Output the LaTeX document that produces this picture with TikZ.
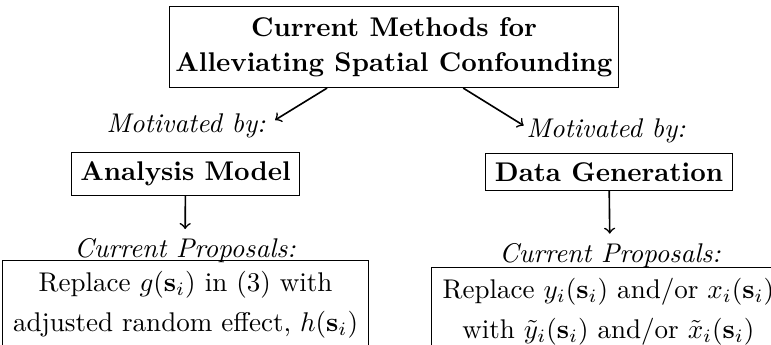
\documentclass[tikz,border=0pt]{standalone}
\usepackage{amsmath}
\usetikzlibrary{positioning, calc}

\begin{document}
\begin{tikzpicture}[box/.style={draw, thin, align=center}, note/.style={font=\itshape}]
	\useasboundingbox (0, 0) rectangle (10.023, -4.485);
	\node[box, font=\bfseries, inner xsep=2.2pt, inner ysep=4pt] (top) at (5.122, -0.611) {Current Methods for\\[1pt] Alleviating Spatial Confounding};
	\node[note] (motivL) at (2.418, -1.638) {Motivated by:};
	\node[note] (motivR) at (7.878, -1.703) {Motivated by:};
	\node[box, font=\bfseries] (model) at (2.412, -2.262) {Analysis Model};
	\node[box, font=\bfseries] (datagen) at (7.917, -2.236) {Data Generation};
	\node[note] (propL) at (2.405, -3.26) {Current Proposals:};
	\node[note] (propR) at (7.93, -3.32) {Current Proposals:};
	\node[box, anchor=north, inner sep=4pt] (replL) at (2.412, -3.38) {Replace $g(\mathbf{s}_i)$ in (3) with\\[2.8pt] adjusted random effect, $h(\mathbf{s}_i)$\\[2.8pt] };
	\node[box, anchor=north, inner sep=4pt] (replR) at (7.91, -3.471) {Replace $y_i(\mathbf{s}_i)$ and/or $x_i(\mathbf{s}_i)$\\[2.8pt] with $\tilde{y}_i(\mathbf{s}_i)$ and/or $\tilde{x}_i(\mathbf{s}_i)$\\[2.8pt] };
	\draw[semithick, ->] ([xshift=-0.87cm]top.south) -- ([yshift=2.2pt]motivL.east);
	\draw[semithick, ->] ([xshift=0.9cm]top.south) -- ([xshift=2.5pt, yshift=2pt]motivR.west);
	\draw[semithick, ->] (model) -- (propL);
	\draw[semithick, ->] (datagen) -- (propR);
\end{tikzpicture}
\end{document}
